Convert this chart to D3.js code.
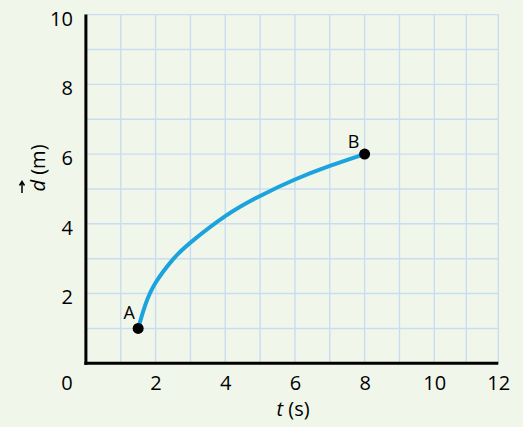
<!DOCTYPE html>
<html>
<head>
<meta charset="utf-8">
<script src="https://cdn.jsdelivr.net/npm/d3@7"></script>
<style>
  html, body { margin: 0; padding: 0; background: #f1f6eb; }
  svg { display: block; }
  text { font-family: "Open Sans", "Noto Sans", sans-serif; fill: #000; }
</style>
</head>
<body>
<svg id="chart" width="523" height="427"></svg>
<script>
// ---- data ----
const tValues = [1.5, 1.7, 2, 2.5, 3, 4, 5, 6, 7, 8];
const dValues = [1, 1.66, 2.31, 2.98, 3.46, 4.22, 4.8, 5.27, 5.66, 6];
const pointLabels = ["A", "B"];
const pointT = [1.5, 8];
const pointD = [1, 6];
const xTickLabels = [2, 4, 6, 8, 10, 12];
const yTickLabels = [2, 4, 6, 8, 10];
const gridT = [1, 2, 3, 4, 5, 6, 7, 8, 9, 10, 11, 12];
const gridD = [1, 2, 3, 4, 5, 6, 7, 8, 9, 10];

const svg = d3.select("#chart");
// the last two grid columns of the original are slightly narrower
const x = d3.scaleLinear().domain([0, 10, 12]).range([85.9, 434.3, 498.3]);
const y = d3.scaleLinear().domain([0, 10]).range([363.3, 14.6]);

svg.append("rect").attr("width", 523).attr("height", 427).attr("fill", "#f1f6eb");

// grid
const grid = svg.append("g").attr("stroke", "#c8ddf0").attr("stroke-width", 1.4);
grid.selectAll("line.v").data(gridT).join("line")
  .attr("x1", d => x(d)).attr("x2", d => x(d))
  .attr("y1", y(0)).attr("y2", y(10));
grid.selectAll("line.h").data(gridD).join("line")
  .attr("x1", x(0)).attr("x2", x(12))
  .attr("y1", d => y(d)).attr("y2", d => y(d));

// axes lines
svg.append("line").attr("x1", x(0)).attr("x2", x(0)).attr("y1", y(10)).attr("y2", y(0) + 1.5)
  .attr("stroke", "#000").attr("stroke-width", 3);
svg.append("line").attr("x1", x(0) - 1.5).attr("x2", x(12)).attr("y1", y(0)).attr("y2", y(0))
  .attr("stroke", "#000").attr("stroke-width", 3);

const FS = "20px";

// tick labels via d3 axes
const xAxis = d3.axisBottom(x).tickValues(xTickLabels).tickSize(0).tickPadding(0).tickFormat(d3.format("d"));
const gx = svg.append("g").attr("transform", `translate(0,${y(0)})`).call(xAxis);
gx.select(".domain").remove();
gx.attr("font-size", null).attr("font-family", null);
gx.selectAll("text").attr("y", 27).attr("dy", 0).style("font-size", FS).attr("fill", "#000");

const yAxis = d3.axisLeft(y).tickValues(yTickLabels).tickSize(0).tickPadding(0).tickFormat(d3.format("d"));
const gy = svg.append("g").attr("transform", `translate(${x(0) - 13},0)`).call(yAxis);
gy.select(".domain").remove();
gy.attr("font-size", null).attr("font-family", null);
gy.selectAll("text").attr("x", 0).attr("dy", "0.52em").style("font-size", FS).attr("fill", "#000");

// origin label
svg.append("text").attr("x", 67).attr("y", y(0) + 27).attr("text-anchor", "middle")
  .style("font-size", FS).text("0");

// axis titles
const xt = svg.append("text").attr("x", 293).attr("y", 416).attr("text-anchor", "middle")
  .style("font-size", FS);
xt.append("tspan").style("font-style", "italic").text("t");
xt.append("tspan").text(" (s)");

const yt = svg.append("g").attr("transform", "translate(45,168) rotate(-90)");
const ytext = yt.append("text").attr("x", 0).attr("y", 0).attr("text-anchor", "middle")
  .style("font-size", FS);
ytext.append("tspan").style("font-style", "italic").text("d");
ytext.append("tspan").text(" (m)");
// vector arrow over d
yt.append("path")
  .attr("d", "M -25 -23 L -14 -23 M -17.5 -25.5 L -13.5 -23 L -17.5 -20.5")
  .attr("fill", "none").attr("stroke", "#000").attr("stroke-width", 1.5);

// curve
const pts = tValues.map((t, i) => [t, dValues[i]]);
const lineGen = d3.line().x(d => x(d[0])).y(d => y(d[1])).curve(d3.curveNatural);
svg.append("path").datum(pts).attr("d", lineGen)
  .attr("fill", "none").attr("stroke", "#1ba3dd").attr("stroke-width", 4).attr("stroke-linecap", "round");

// points
svg.selectAll("circle.pt").data(pointT).join("circle")
  .attr("cx", d => x(d)).attr("cy", (d, i) => y(pointD[i])).attr("r", 5.5).attr("fill", "#000");

svg.selectAll("text.pl").data(pointLabels).join("text")
  .attr("x", (d, i) => x(pointT[i]) + (i === 0 ? -9 : -11))
  .attr("y", (d, i) => y(pointD[i]) + (i === 0 ? -9 : -6))
  .attr("text-anchor", "middle").style("font-size", "18px").text(d => d);
</script>
</body>
</html>
